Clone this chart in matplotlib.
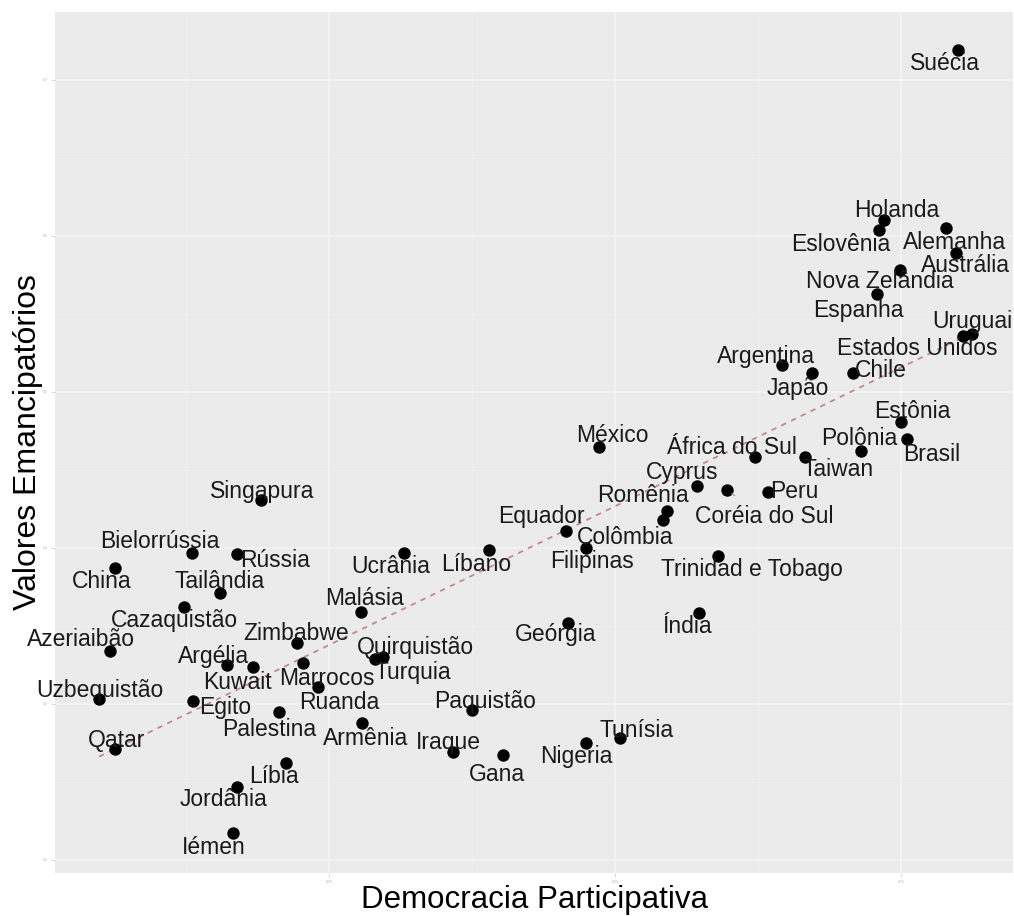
import numpy as np
import matplotlib
matplotlib.use("Agg")
import matplotlib.pyplot as plt

plt.rcParams['font.family'] = ['Liberation Sans', 'DejaVu Sans']

# Country-level scores
countries = [
    "Suécia", "Holanda", "Eslovênia", "Alemanha", "Austrália", "Nova Zelândia",
    "Espanha", "Uruguai", "Estados Unidos", "Argentina", "Japão", "Chile",
    "Estônia", "Brasil", "Polônia", "Taiwan", "África do Sul", "México",
    "Cyprus", "Coréia do Sul", "Peru", "Romênia", "Colômbia", "Equador",
    "Filipinas", "Líbano", "Ucrânia", "Trinidad e Tobago", "Índia", "Geórgia",
    "Singapura", "Bielorrússia", "Rússia", "China", "Tailândia", "Cazaquistão",
    "Malásia", "Zimbabwe", "Azeriaibão", "Quirquistão", "Turquia", "Argélia",
    "Kuwait", "Marrocos", "Ruanda", "Uzbequistão", "Egito", "Palestina",
    "Armênia", "Paquistão", "Iraque", "Gana", "Nigeria", "Tunísia", "Qatar",
    "Líbia", "Jordânia", "Iémen",
]
democracia = [
    0.800, 0.735, 0.731, 0.789, 0.798, 0.749,
    0.729, 0.812, 0.804, 0.646, 0.672, 0.708,
    0.750, 0.755, 0.715, 0.666, 0.622, 0.486,
    0.572, 0.598, 0.634, 0.545, 0.542, 0.457,
    0.475, 0.390, 0.316, 0.590, 0.573, 0.459,
    0.191, 0.130, 0.170, 0.063, 0.155, 0.123,
    0.278, 0.222, 0.059, 0.290, 0.297, 0.161,
    0.184, 0.227, 0.240, 0.049, 0.131, 0.206,
    0.279, 0.375, 0.358, 0.402, 0.475, 0.504, 0.063,
    0.212, 0.170, 0.166,
]
valores = [
    0.719, 0.610, 0.604, 0.605, 0.589, 0.578,
    0.563, 0.537, 0.536, 0.517, 0.512, 0.512,
    0.481, 0.470, 0.462, 0.458, 0.458, 0.465,
    0.440, 0.437, 0.436, 0.424, 0.418, 0.411,
    0.400, 0.399, 0.397, 0.395, 0.358, 0.352,
    0.431, 0.397, 0.396, 0.387, 0.371, 0.362,
    0.359, 0.339, 0.334, 0.329, 0.330, 0.325,
    0.324, 0.326, 0.311, 0.303, 0.302, 0.295,
    0.288, 0.296, 0.269, 0.267, 0.275, 0.278, 0.271,
    0.262, 0.247, 0.217,
]

x_ticks = [0.25, 0.50, 0.75]
y_ticks = [0.2, 0.3, 0.4, 0.5, 0.6, 0.7]

# Label placement (pixel offsets: right, down) to keep names readable
label_offsets = {
    "Suécia": (-13, 13), "Holanda": (13, -10), "Eslovênia": (-39, 15),
    "Alemanha": (9, 14), "Austrália": (9, 12), "Nova Zelândia": (-20, 11),
    "Espanha": (-19, 17), "Uruguai": (0, -13), "Estados Unidos": (-46, 13),
    "Argentina": (-16, -9), "Japão": (-14, 15), "Chile": (28, -3),
    "Estônia": (11, -10), "Brasil": (25, 16), "Polônia": (-2, -13),
    "Taiwan": (33, 12), "África do Sul": (-23, -10), "México": (13, -11),
    "Cyprus": (-15, -13), "Coréia do Sul": (37, 26), "Peru": (26, 0),
    "Romênia": (-24, -15), "Colômbia": (-38, 18), "Equador": (-24, -14),
    "Filipinas": (6, 14), "Líbano": (-13, 15), "Ucrânia": (-14, 14),
    "Trinidad e Tobago": (34, 14), "Índia": (-11, 13), "Geórgia": (-12, 12),
    "Singapura": (1, -8), "Bielorrússia": (-32, -11), "Rússia": (38, 6),
    "China": (-13, 13), "Tailândia": (-1, -12), "Cazaquistão": (-9, 13),
    "Malásia": (3, -13), "Zimbabwe": (-1, -10), "Azeriaibão": (-29, -11),
    "Quirquistão": (41, -11), "Turquia": (30, 15), "Argélia": (-14, -8),
    "Kuwait": (-16, 16), "Marrocos": (24, 15), "Ruanda": (22, 16),
    "Uzbequistão": (1, -9), "Egito": (32, 7), "Palestina": (-9, 18),
    "Armênia": (3, 16), "Paquistão": (13, -9), "Iraque": (-4, -10),
    "Gana": (-6, 19), "Nigeria": (-10, 14), "Tunísia": (17, -8),
    "Qatar": (2, -9), "Líbia": (-12, 13), "Jordânia": (-14, 13),
    "Iémen": (-19, 14),
}
with_segment = {"Coréia do Sul"}

fig = plt.figure(figsize=(10.14, 9.16), dpi=100)
ax = fig.add_axes([0.0542, 0.047, 0.945, 0.940])
ax.set_facecolor("#EBEBEB")

x = np.array(democracia)
y = np.array(valores)

ax.set_xlim(0.0105, 0.848)
ax.set_ylim(0.1917, 0.7436)

# ggplot-like grid
ax.set_xticks(x_ticks)
ax.set_yticks(y_ticks)
ax.set_xticks([0.125, 0.375, 0.625], minor=True)
ax.set_yticks([0.25, 0.35, 0.45, 0.55, 0.65], minor=True)
ax.grid(which="major", color="#F5F5F5", linewidth=1.1)
ax.grid(which="minor", color="#F0F0F0", linewidth=0.6)
ax.set_axisbelow(True)
for s in ax.spines.values():
    s.set_visible(False)
ax.tick_params(which="major", length=3, width=0.6, color="#D0D0D0",
               labelsize=2.5, labelcolor="#B0B0B0", pad=2)
ax.tick_params(which="minor", length=0)
ax.set_xticklabels([f"{v:.2f}" for v in x_ticks])
ax.set_yticklabels([f"{v:.1f}" for v in y_ticks])

# Linear fit
slope, intercept = np.polyfit(x, y, 1)
xs = np.array([x.min(), x.max()])
ax.plot(xs, slope * xs + intercept, linestyle=(0, (3, 3)), color="#B87272",
        linewidth=1.3, alpha=0.8, zorder=2)

ax.scatter(x, y, s=80, color="black", zorder=3, linewidths=0)

for name, xi, yi in zip(countries, democracia, valores):
    dx, dy = label_offsets[name]
    kw = {}
    if name in with_segment:
        kw["arrowprops"] = dict(arrowstyle="-", color="#9A9A9A", linewidth=0.8,
                                shrinkA=8, shrinkB=4)
    ax.annotate(name, (xi, yi), xytext=(dx, -dy), textcoords="offset pixels",
                ha="center", va="center", fontsize=16.5, color="#1A1A1A",
                zorder=4, **kw)

ax.set_xlabel("Democracia Participativa", fontsize=22.5, color="black",
              labelpad=0.5)
ax.set_ylabel("Valores Emancipatórios", fontsize=23, color="black",
              labelpad=0)

fig.savefig("out.png", dpi=100)
